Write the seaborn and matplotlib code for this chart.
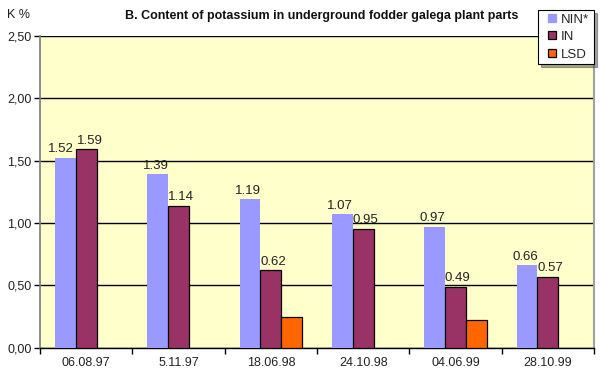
import numpy as np
import pandas as pd
import seaborn as sns
import matplotlib
matplotlib.use("Agg")
import matplotlib.pyplot as plt
from matplotlib.ticker import FuncFormatter
from matplotlib.lines import Line2D

# data
dates = ["06.08.97", "5.11.97", "18.06.98", "24.10.98", "04.06.99", "28.10.99"]
nin = [1.52, 1.39, 1.19, 1.07, 0.97, 0.66]
in_vals = [1.59, 1.14, 0.62, 0.95, 0.49, 0.57]
lsd = [np.nan, np.nan, 0.25, np.nan, 0.22, np.nan]
series = ["NIN*", "IN", "LSD"]
colors = ["#9999FF", "#993366", "#FF6600"]
yticks = [0.0, 0.5, 1.0, 1.5, 2.0, 2.5]

df = pd.DataFrame({
    "date": dates * 3,
    "value": nin + in_vals + lsd,
    "series": [s for s in series for _ in dates],
})

sns.set_theme(style="white")
plt.rcParams["font.family"] = ["Liberation Sans", "DejaVu Sans"]

fig = plt.figure(figsize=(6, 3.81), dpi=100)
ax = fig.add_axes([40 / 600, 1 - 347.7 / 381, 554 / 600, 311.7 / 381])
ax.set_facecolor("#FFFFCC")

sns.barplot(data=df, x="date", y="value", hue="series", order=dates,
            hue_order=series, palette=colors, width=0.675, saturation=1,
            ax=ax, zorder=3, legend=False)

# edges: NIN without outline, IN / LSD outlined black
for i, cont in enumerate(ax.containers):
    for p in cont:
        if i == 0:
            p.set_linewidth(0)
        else:
            p.set_edgecolor("black")
            p.set_linewidth(0.9)

# value labels, nudged sideways a little like the original
shifts = [-1.5, 1.5]
for i, cont in enumerate(ax.containers[:2]):
    anns = ax.bar_label(cont, fmt="%.2f", fontsize=9.5, padding=2, color="#222222")
    for j, a in enumerate(anns):
        dx = shifts[i]
        if j == 0:
            dx = -3.5 if i == 0 else 3
        a.xyann = (dx, a.xyann[1])

ax.set_ylim(0, 2.5)
ax.set_xlim(-0.5, 5.5)
ax.set_yticks(yticks)
ax.yaxis.set_major_formatter(FuncFormatter(lambda v, _: f"{v:.2f}".replace(".", ",")))
ax.grid(axis="y", color="black", linewidth=1, zorder=1)
ax.set_axisbelow(True)

ax.set_xticks(np.arange(-0.5, 6, 1), minor=True)
ax.tick_params(axis="x", which="major", length=0, labelsize=9, pad=7, colors="#222222")
ax.tick_params(axis="x", which="minor", length=4, width=1, color="black", direction="out", bottom=True)
ax.tick_params(axis="y", length=4, width=1, color="black", direction="out", left=True,
               labelsize=9, pad=2, labelcolor="#222222")
ax.set_xlabel("")
ax.set_ylabel("")

ax.spines["top"].set_visible(False)
ax.spines["left"].set_color("#808080")
ax.spines["right"].set_color("#A0A0A0")
ax.spines["right"].set_linewidth(1.5)
ax.spines["bottom"].set_color("black")
ax.spines["bottom"].set_linewidth(1)

fig.text(7 / 600, 1 - 15 / 381, "K %", fontsize=9, va="center", ha="left", color="#222222")
fig.text(322 / 600, 1 - 16 / 381, "B. Content of potassium in underground fodder galega plant parts",
         fontsize=9, fontweight="bold", ha="center", va="center", color="#111111")

edges = [colors[0], "black", "black"]
handles = [Line2D([], [], marker="s", ls="none", markersize=6, markerfacecolor=c,
                  markeredgecolor=e, markeredgewidth=0.9) for c, e in zip(colors, edges)]
leg = ax.legend(handles, series, loc="upper left",
                bbox_to_anchor=(538 / 600, 1 - 64 / 381, 56 / 600, 54 / 381),
                bbox_transform=fig.transFigure, mode="expand",
                fontsize=9.5, frameon=True, fancybox=False, shadow=True, framealpha=1,
                edgecolor="black", handlelength=1.6, handletextpad=-0.1,
                borderpad=0.25, labelspacing=0.4, borderaxespad=0)
leg.get_frame().set_linewidth(0.8)
leg.set_zorder(10)

fig.savefig("out.png", dpi=100)
